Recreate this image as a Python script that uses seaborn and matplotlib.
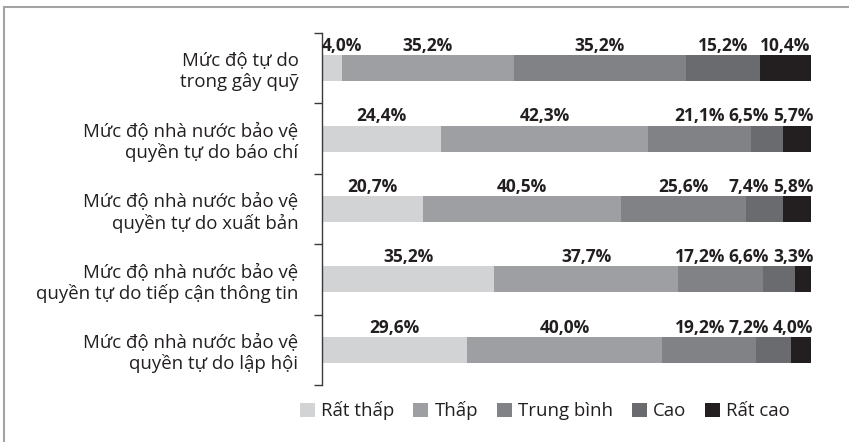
import matplotlib
matplotlib.use("Agg")
import matplotlib.pyplot as plt
from matplotlib.patches import Patch
from matplotlib.lines import Line2D
import seaborn as sns
import numpy as np

# Data (percent per row, each row sums to 100)
categories = [
    "Mức độ tự do\ntrong gây quỹ",
    "Mức độ nhà nước bảo vệ\nquyền tự do báo chí",
    "Mức độ nhà nước bảo vệ\nquyền tự do xuất bản",
    "Mức độ nhà nước bảo vệ\nquyền tự do tiếp cận thông tin",
    "Mức độ nhà nước bảo vệ\nquyền tự do lập hội",
]
levels = ["Rất thấp", "Thấp", "Trung bình", "Cao", "Rất cao"]
rat_thap = [4.0, 24.4, 20.7, 35.2, 29.6]
thap = [35.2, 42.3, 40.5, 37.7, 40.0]
trung_binh = [35.2, 21.1, 25.6, 17.2, 19.2]
cao = [15.2, 6.5, 7.4, 6.6, 7.2]
rat_cao = [10.4, 5.7, 5.8, 3.3, 4.0]
colors = ["#d1d3d4", "#9d9fa2", "#808285", "#6a6b6f", "#231f20"]

sns.set_theme(style="white")
plt.rcParams["font.family"] = ["Open Sans", "DejaVu Sans"]

values = np.array([rat_thap, thap, trung_binh, cao, rat_cao])
cum = values.cumsum(axis=0)

W, H = 849, 442
fig = plt.figure(figsize=(W / 100, H / 100), dpi=100)
ax = fig.add_axes([322 / W, 1 - 385 / H, (811 - 322) / W, (385 - 33) / H])

bar_h = 0.37
# stacked bars: draw cumulative totals from the largest down so each covers the next
for i in reversed(range(len(levels))):
    sns.barplot(x=cum[i], y=categories, orient="h", color=colors[i],
                width=bar_h, saturation=1, linewidth=0, ax=ax)

ax.set_xlim(0, 100)
ax.set_ylim(4.5, -0.5)
ax.set_xlabel("")
ax.set_ylabel("")
ax.set_xticks([])
for s in ["top", "right", "bottom"]:
    ax.spines[s].set_visible(False)
ax.spines["left"].set_color("#3a3a3a")
ax.spines["left"].set_linewidth(1)
ax.tick_params(axis="y", which="major", length=0, pad=17, labelsize=13.4,
               labelcolor="#231f20")
ax.set_yticks(np.arange(-0.5, 5, 1), minor=True)
ax.tick_params(axis="y", which="minor", length=6, width=1, color="#3a3a3a",
               direction="out", left=True)

# value labels above each segment
all_texts = []
for j in range(len(categories)):
    row = []
    for i in range(len(levels)):
        xc = cum[i, j] - values[i, j] / 2
        lab = f"{values[i, j]:.1f}%".replace(".", ",")
        t = ax.text(xc, j - bar_h / 2 - 0.06, lab, ha="center", va="baseline",
                    fontsize=12.5, fontweight="bold", color="#231f20", clip_on=False)
        row.append(t)
    all_texts.append(row)

# nudge labels so neighbours don't overlap
fig.canvas.draw()
r = fig.canvas.get_renderer()
ppu = ax.transData.transform((1, 0))[0] - ax.transData.transform((0, 0))[0]
gap = 0.8
for row in all_texts:
    xs = [t.get_position()[0] for t in row]
    w = [t.get_window_extent(r).width / ppu for t in row]
    xs[0] = max(xs[0], w[0] / 2)
    for k in range(1, len(xs)):
        xs[k] = max(xs[k], xs[k - 1] + (w[k - 1] + w[k]) / 2 + gap)
    xs[-1] = min(xs[-1], 100.5 - w[-1] / 2)
    for k in range(len(xs) - 2, -1, -1):
        xs[k] = min(xs[k], xs[k + 1] - (w[k] + w[k + 1]) / 2 - gap)
    for t, x in zip(row, xs):
        t.set_x(x)

handles = [Patch(facecolor=c, edgecolor="none") for c in colors]
fig.legend(handles, levels, loc="center", bbox_to_anchor=(545 / W, 1 - 411 / H),
           ncol=5, frameon=False, fontsize=13.4, handlelength=0.8, handleheight=0.8,
           handletextpad=0.35, columnspacing=1.0, labelcolor="#231f20")

# frame lines (top and left) around the figure
fig.add_artist(Line2D([4 / W, 4 / W], [0, 1 - 7 / H], transform=fig.transFigure,
                      color="#a3a3a3", lw=1.5))
fig.add_artist(Line2D([4 / W, 1], [1 - 7 / H, 1 - 7 / H], transform=fig.transFigure,
                      color="#a3a3a3", lw=1.5))

fig.savefig("out.png", dpi=100)
